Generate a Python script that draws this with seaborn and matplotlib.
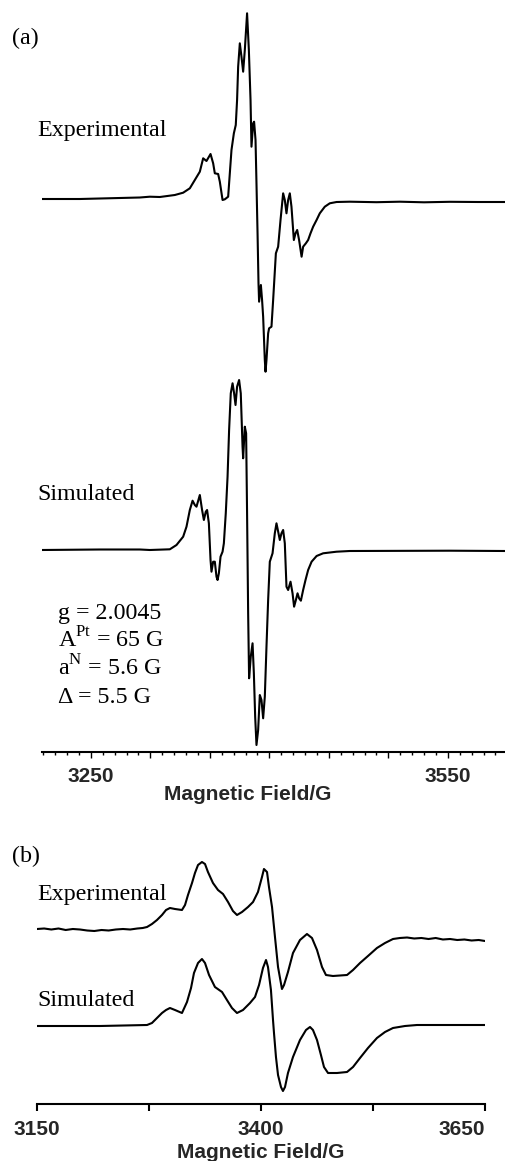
import numpy as np
import pandas as pd
import seaborn as sns
import matplotlib.pyplot as plt
from matplotlib.ticker import FixedLocator, MultipleLocator, FuncFormatter

# ---- panel (a): EPR spectra, field in G, signal in arbitrary units ----
a_exp_field = [3208.8, 3224.0, 3240.8, 3257.6, 3274.4, 3291.2, 3299.6, 3308.0, 3320.6, 3327.6,
               3333.2, 3337.4, 3341.6, 3344.4, 3347.2, 3350.6, 3352.8, 3354.2, 3357.0, 3358.4,
               3360.7, 3362.6, 3365.4, 3366.8, 3368.2, 3370.2, 3371.8, 3372.9, 3373.8, 3375.2,
               3376.6, 3378.0, 3379.4, 3381.3, 3382.8, 3384.2, 3385.0, 3386.4, 3387.2, 3388.4,
               3389.2, 3390.1, 3390.9, 3391.4, 3392.9, 3393.9, 3394.8, 3396.2, 3396.8, 3397.6,
               3399.0, 3399.8, 3401.8, 3403.2, 3405.5, 3407.4, 3409.4, 3411.6, 3413.0, 3414.4,
               3415.8, 3417.2, 3418.6, 3420.6, 3422.0, 3423.4, 3425.0, 3427.1, 3428.4, 3430.7,
               3432.6, 3434.6, 3436.8, 3439.7, 3442.4, 3446.6, 3450.8, 3456.5, 3467.6, 3490.0,
               3509.7, 3530.0, 3551.7, 3575.0, 3597.9]
a_exp_signal = [1, 1, 1, 1.5, 2, 2.5, 3.3, 3, 5, 7.3,
                11.7, 20, 28.3, 41.7, 39, 46, 36.7, 26.7, 26, 18.3,
                0, 0.7, 3.3, 26.7, 50, 66.7, 75, 100, 133.3, 156.7,
                143.3, 128.3, 150, 186.7, 150, 100, 53.3, 76.7, 78.3, 60,
                16.7, -33.3, -83.3, -101.7, -85, -100, -116.7, -160, -171.7, -160,
                -133.3, -128.3, -126.7, -100, -53.3, -46.7, -20, 6.7, 0, -13.3,
                0, 6.7, -6.7, -40, -33.3, -30, -40, -56.7, -46.7, -43.3,
                -40, -33.3, -26.7, -20, -13.3, -6.7, -3.3, -2, -1.7, -2.2,
                -1.7, -2.3, -1.8, -2, -2]

a_sim_field = [3208.8, 3257.6, 3291.2, 3299.6, 3316.4, 3322.0, 3327.6, 3330.4, 3333.2, 3335.5,
               3337.4, 3338.8, 3341.6, 3343.5, 3345.0, 3346.6, 3347.7, 3349.2, 3350.6, 3351.4,
               3352.8, 3354.2, 3355.6, 3356.5, 3357.6, 3359.0, 3360.7, 3361.8, 3363.4, 3364.9,
               3366.2, 3367.6, 3369.1, 3370.4, 3371.6, 3372.9, 3374.6, 3376.0, 3377.5, 3378.0,
               3379.4, 3380.5, 3381.3, 3382.2, 3383.0, 3384.4, 3385.9, 3387.0, 3388.1, 3389.2,
               3390.6, 3392.0, 3393.4, 3394.8, 3396.2, 3397.6, 3399.0, 3400.4, 3402.7, 3404.6,
               3406.0, 3407.7, 3408.8, 3410.2, 3411.6, 3413.0, 3414.4, 3415.8, 3417.8, 3419.5,
               3420.8, 3422.3, 3423.7, 3425.0, 3426.5, 3428.4, 3430.4, 3432.6, 3435.5, 3439.7,
               3445.2, 3456.5, 3467.6, 3551.7, 3597.9]
a_sim_signal = [0, 0.5, 0.5, 0, 0.7, 5, 13.3, 23.3, 40, 49.3,
                45, 43.3, 55, 40, 30, 38.3, 40, 26.7, -10, -21.7,
                -11.7, -11.7, -26.7, -30, -23.3, -6.7, -1.7, 6.7, 36.7, 73.3,
                120, 156.7, 166.7, 156.7, 145, 163.3, 170, 156.7, 103.3, 91.7,
                123.3, 116.7, 36.7, -63.3, -128.3, -106.7, -93.3, -123.3, -166.7, -195,
                -180, -145, -150, -168.3, -146.7, -96.7, -50, -11.7, -3.3, 16.7,
                26.7, 16.7, 10, 16.7, 20, 6.7, -36.7, -40, -31.7, -43.3,
                -56.7, -50, -43.3, -48.3, -50.7, -40, -30, -20, -11.7, -6,
                -3.3, -1.7, -1, -0.7, -1]

# ---- panel (b) ----
b_exp_field = [3150, 3158, 3166, 3174, 3182, 3190, 3198, 3206, 3214, 3222,
               3230, 3238, 3246, 3254, 3262, 3268, 3272.8, 3278.3, 3283.9, 3289.5,
               3294.0, 3298.4, 3304.0, 3311.8, 3315.2, 3318.5, 3323.0, 3326.3, 3329.7, 3334.1,
               3337.5, 3340.8, 3346.4, 3352.0, 3357.6, 3363.2, 3368.7, 3373.2, 3378.8, 3385.5,
               3391.1, 3396.6, 3401.1, 3403.3, 3406.7, 3408.9, 3412.3, 3415.6, 3419.0, 3423.4,
               3425.7, 3430.1, 3435.7, 3443.5, 3451.3, 3456.9, 3462.5, 3468.1, 3472.5, 3480.3,
               3496.0, 3502.7, 3510.5, 3519.4, 3529.4, 3538.4, 3547.3, 3555, 3563, 3571,
               3579, 3587, 3595, 3603, 3611, 3619, 3627, 3635, 3643, 3650]
b_exp_signal = [0, 0.5, -0.5, 0.5, -1, 0, -0.5, -1.5, -2, -1,
                -1.5, -0.5, 0, -0.5, 0.5, 1, 2, 5, 9, 14,
                19, 21, 20, 19, 24, 34, 46, 56, 64, 67,
                65, 57, 46, 39, 35, 27, 18, 14, 17, 22,
                27, 37, 52, 60, 57, 42, 22, -8, -38, -60,
                -56, -43, -24, -11, -5, -9, -21, -38, -46, -47,
                -46, -41, -34, -27, -19, -14, -10, -9, -8.5, -9.5,
                -9, -10, -9, -10.5, -10, -11, -10.5, -11.5, -11, -12]

b_sim_field = [3150, 3220.3, 3272.8, 3278.3, 3283.9, 3289.5, 3294.0, 3298.4, 3304.0, 3311.8,
               3317.4, 3321.9, 3325.2, 3329.7, 3334.1, 3337.5, 3342.0, 3348.6, 3356.5, 3362.0,
               3367.6, 3373.2, 3379.9, 3387.7, 3393.3, 3397.8, 3402.2, 3405.6, 3407.8, 3411.1,
               3413.4, 3414.5, 3416.7, 3419.0, 3422.3, 3424.5, 3426.8, 3430.1, 3435.7, 3443.5,
               3450.2, 3454.7, 3458.0, 3462.5, 3466.9, 3470.3, 3474.8, 3484.8, 3496.0, 3502.7,
               3510.5, 3519.4, 3529.4, 3538.4, 3547.3, 3560.7, 3574.1, 3650]
b_sim_signal = [0, 0, 1, 3, 8, 13, 16, 18, 16, 13,
                24, 38, 53, 63, 67, 63, 51, 39, 34, 26,
                18, 13, 16, 23, 29, 41, 58, 66, 59, 36,
                6, -7, -31, -49, -61, -65, -61, -47, -31, -14,
                -4, -1, -4, -14, -29, -41, -47, -47, -46, -41,
                -32, -22, -12, -6, -2, 0, 1, 1]

a_ticks = [3250, 3300, 3350, 3400, 3450, 3500, 3550]
a_labels = [3250, 3550]
b_ticks = [3150, 3275, 3400, 3525, 3650]
b_labels = [3150, 3400, 3650]

params_a = ["g = 2.0045", r"A$^{\mathrm{Pt}}$ = 65 G", r"a$^{\mathrm{N}}$ = 5.6 G", "\u0394 = 5.5 G"]

sns.set_theme(style="white")
plt.rcParams['font.family'] = ['Liberation Serif', 'DejaVu Serif']
plt.rcParams['mathtext.fontset'] = 'custom'
plt.rcParams['mathtext.rm'] = 'Liberation Serif'

W, H = 505, 1161
fig = plt.figure(figsize=(W / 100, H / 100), dpi=100)


def fx(px):
    return px / W


def fy(py):
    return 1 - py / H


tick_font = dict(family='Liberation Sans', weight='bold', size=15)


def style_axis(ax):
    for s in ['top', 'left', 'right']:
        ax.spines[s].set_visible(False)
    ax.spines['bottom'].set_linewidth(1.5)
    ax.spines['bottom'].set_color('black')
    ax.set_yticks([])
    ax.set_ylabel('')
    ax.patch.set_alpha(0)


# panel (a)
ax_a = fig.add_axes([fx(42), fy(752), (505 - 42) / W, 752 / H])
df = pd.DataFrame({'field': a_exp_field, 'signal': np.array(a_exp_signal) + 552})
sns.lineplot(data=df, x='field', y='signal', ax=ax_a, color='black', lw=1.5, estimator=None)
df = pd.DataFrame({'field': a_sim_field, 'signal': np.array(a_sim_signal) + 202})
sns.lineplot(data=df, x='field', y='signal', ax=ax_a, color='black', lw=1.5, estimator=None)
ax_a.set_xlim(3209, 3598)
ax_a.set_ylim(0, 752)
style_axis(ax_a)
ax_a.xaxis.set_major_locator(FixedLocator(a_ticks))
ax_a.xaxis.set_minor_locator(MultipleLocator(10))
ax_a.xaxis.set_major_formatter(FuncFormatter(lambda v, p: f"{v:.0f}" if round(v) in a_labels else ""))
ax_a.tick_params(axis='x', which='major', bottom=True, length=4, width=1, direction='out', pad=7, color='black')
ax_a.tick_params(axis='x', which='minor', bottom=True, length=2.5, width=1, direction='out', color='black')
for t in ax_a.get_xticklabels():
    t.set_fontproperties(tick_font)
ax_a.set_xlabel("Magnetic Field/G", fontdict=tick_font, va='top')
ax_a.xaxis.set_label_coords(0.445, -(785 - 752) / 752)

# panel (b)
ax_b = fig.add_axes([fx(37), fy(1104), (485 - 37) / W, 274 / H])
df = pd.DataFrame({'field': b_exp_field, 'signal': np.array(b_exp_signal) + 175})
sns.lineplot(data=df, x='field', y='signal', ax=ax_b, color='black', lw=1.5, estimator=None)
df = pd.DataFrame({'field': b_sim_field, 'signal': np.array(b_sim_signal) + 78})
sns.lineplot(data=df, x='field', y='signal', ax=ax_b, color='black', lw=1.5, estimator=None)
ax_b.set_xlim(3150, 3650)
ax_b.set_ylim(0, 274)
style_axis(ax_b)
ax_b.xaxis.set_major_locator(FixedLocator(b_ticks))
ax_b.xaxis.set_major_formatter(FuncFormatter(lambda v, p: f"{v:.0f}" if round(v) in b_labels else ""))
ax_b.tick_params(axis='x', which='major', bottom=True, length=5, width=1.5, direction='out', pad=6.5, color='black')
labs = ax_b.get_xticklabels()
for t in labs:
    t.set_fontproperties(tick_font)
labs[-1].set_ha('right')
ax_b.set_xlabel("Magnetic Field/G", fontdict=tick_font, va='top')
ax_b.xaxis.set_label_coords(0.5, -(1143 - 1104) / 274)

# text labels
txt = dict(fontsize=17.3, va='baseline', ha='left', color='black')
fig.text(fx(12), fy(44), "(a)", **txt)
fig.text(fx(37), fy(136), "Experimental", **txt)
fig.text(fx(37), fy(500), "Simulated", **txt)
for i, s in enumerate(params_a):
    fig.text(fx(58), fy(619 + 28 * i), s, **txt)
fig.text(fx(12), fy(862), "(b)", **txt)
fig.text(fx(37), fy(900), "Experimental", **txt)
fig.text(fx(37), fy(1006), "Simulated", **txt)

fig.savefig("out.png", dpi=100)
